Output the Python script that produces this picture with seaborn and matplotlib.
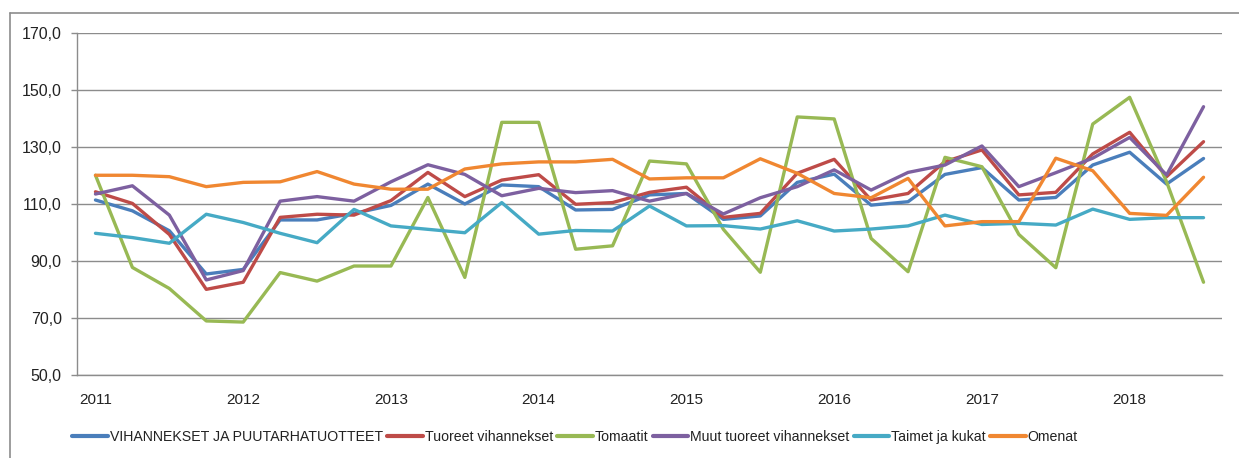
import numpy as np
import pandas as pd
import seaborn as sns
from matplotlib import pyplot as plt
from matplotlib.lines import Line2D
from matplotlib.ticker import FixedLocator, FuncFormatter

# quarterly index values 2011 Q1 .. 2018 Q3
years = [2011, 2012, 2013, 2014, 2015, 2016, 2017, 2018]
quarters = [f"{y}Q{q}" for y in years for q in range(1, 5)][:31]

vihannekset = [111.4, 107.6, 100.6, 85.4, 87.0, 104.4, 104.4, 106.7, 109.5, 117.0, 110.0,
               116.7, 116.1, 107.9, 108.1, 113.2, 113.7, 104.6, 105.8, 117.6, 120.5,
               109.6, 110.8, 120.4, 122.8, 111.4, 112.3, 123.7, 128.2, 117.0, 126.0]
tuoreet = [114.3, 110.2, 99.3, 80.0, 82.5, 105.3, 106.4, 106.1, 111.2, 121.1, 112.6,
           118.4, 120.3, 109.9, 110.5, 114.1, 115.9, 105.3, 106.7, 120.8, 125.7,
           111.4, 113.7, 124.9, 129.0, 113.2, 114.1, 127.6, 135.2, 119.6, 131.9]
tomaatit = [120.1, 87.7, 80.3, 68.9, 68.5, 85.9, 82.9, 88.2, 88.2, 112.3, 84.2,
            138.7, 138.7, 94.1, 95.3, 125.1, 124.1, 101.1, 86.0, 140.6, 139.9,
            97.9, 86.2, 126.4, 123.1, 99.3, 87.6, 138.1, 147.5, 117.8, 82.5]
muut = [113.5, 116.4, 106.1, 83.3, 86.6, 111.0, 112.6, 111.0, 117.8, 123.8, 120.4,
        112.9, 115.5, 114.0, 114.7, 111.0, 113.7, 106.5, 112.2, 116.1, 122.0,
        114.9, 121.1, 123.7, 130.4, 116.1, 121.0, 126.1, 133.4, 120.2, 144.2]
taimet = [99.7, 98.2, 96.2, 106.4, 103.5, 99.7, 96.4, 108.1, 102.3, 101.1, 99.9,
          110.5, 99.4, 100.7, 100.5, 109.3, 102.3, 102.4, 101.2, 104.1, 100.5,
          101.2, 102.3, 106.1, 102.8, 103.2, 102.6, 108.2, 104.6, 105.2, 105.2]
omenat = [120.1, 120.1, 119.6, 116.1, 117.6, 117.8, 121.4, 117.0, 115.2, 115.2, 122.3,
          124.1, 124.8, 124.8, 125.7, 118.8, 119.2, 119.2, 125.9, 120.8, 113.7,
          112.2, 119.0, 102.3, 103.8, 103.8, 126.1, 121.7, 106.7, 106.0, 119.4]

names = ["VIHANNEKSET JA PUUTARHATUOTTEET", "Tuoreet vihannekset", "Tomaatit",
         "Muut tuoreet vihannekset", "Taimet ja kukat", "Omenat"]
series = [vihannekset, tuoreet, tomaatit, muut, taimet, omenat]
colors = ["#4A7EBB", "#BE4B48", "#98B954", "#7D60A0", "#46AAC5", "#F08731"]

frames = []
for name, vals in zip(names, series):
    frames.append(pd.DataFrame({"pos": np.arange(len(quarters)), "quarter": quarters,
                                "value": vals, "series": name}))
df = pd.concat(frames, ignore_index=True)

sns.set_style("white")
plt.rcParams["font.family"] = ["Liberation Sans", "DejaVu Sans"]

fig = plt.figure(figsize=(12.39, 4.58), dpi=100)
ax = fig.add_axes([77 / 1239, 1 - 374.7 / 458, (1222 - 77) / 1239, (374.7 - 33.3) / 458])

sns.lineplot(data=df, x="pos", y="value", hue="series", hue_order=names,
             palette=colors, linewidth=2.4, sort=False, ax=ax, legend=False)

grid_c = "#8C8C8C"
ax.set_ylim(50, 170)
ax.set_yticks(np.arange(50, 171, 20))
ax.yaxis.set_major_formatter(FuncFormatter(lambda v, p: f"{v:.1f}".replace(".", ",")))
ax.grid(axis="y", color=grid_c, linewidth=1)
ax.set_axisbelow(True)

n = len(quarters)
ax.set_xlim(-0.5, n - 0.5)
ax.xaxis.set_major_locator(FixedLocator(np.arange(-0.5, n, 1.0)))
ax.xaxis.set_major_formatter(FuncFormatter(lambda v, p: ""))
ax.xaxis.set_minor_locator(FixedLocator([quarters.index(f"{y}Q1") for y in years]))
ax.set_xticklabels([str(y) for y in years], minor=True)
ax.tick_params(axis="x", which="major", length=5, color=grid_c, width=1, direction="out")
ax.tick_params(axis="x", which="minor", length=0, pad=13, labelsize=11, labelcolor="#222222")
ax.tick_params(axis="y", length=4, color=grid_c, width=1, pad=7, labelsize=11.5,
               labelcolor="#222222", left=True)
ax.set_xlabel("")
ax.set_ylabel("")

for side in ["top", "right"]:
    ax.spines[side].set_visible(False)
for side in ["left", "bottom"]:
    ax.spines[side].set_color(grid_c)
    ax.spines[side].set_linewidth(1)

handles = [Line2D([], [], color=c, linewidth=3) for c in colors]
fig.legend(handles, names, loc="center", bbox_to_anchor=(575 / 1239, 1 - 437 / 458),
           ncol=6, frameon=False, fontsize=10.2, handlelength=2.5, handletextpad=0.15,
           columnspacing=0.3, labelcolor="#222222")

# outer chart frame (left and top edges visible)
fx, fy = 10 / 1239, 1 - 13 / 458
fig.add_artist(Line2D([fx, fx], [0, fy], color="#8C8C8C", linewidth=1.2))
fig.add_artist(Line2D([fx, 1], [fy, fy], color="#8C8C8C", linewidth=1.2))

fig.savefig("out.png", dpi=100)
